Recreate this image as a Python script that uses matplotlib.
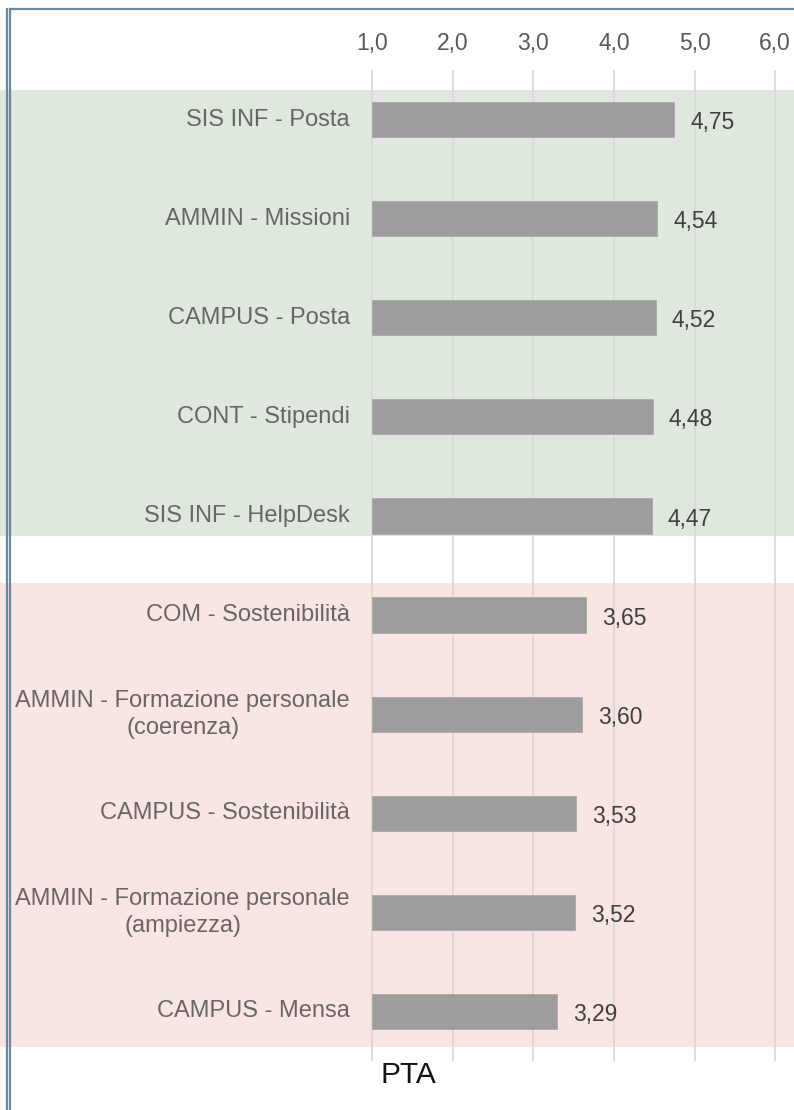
import matplotlib
matplotlib.use("Agg")
import matplotlib.pyplot as plt
from matplotlib.lines import Line2D
from matplotlib.patches import Rectangle

plt.rcParams['font.family'] = ['Liberation Sans', 'DejaVu Sans']

categories = [
    "SIS INF - Posta",
    "AMMIN - Missioni",
    "CAMPUS - Posta",
    "CONT - Stipendi",
    "SIS INF - HelpDesk",
    "COM - Sostenibilità",
    "AMMIN - Formazione personale\n(coerenza)",
    "CAMPUS - Sostenibilità",
    "AMMIN - Formazione personale\n(ampiezza)",
    "CAMPUS - Mensa",
]
values = [4.75, 4.54, 4.52, 4.48, 4.47, 3.65, 3.60, 3.53, 3.52, 3.29]
tick_values = [1, 2, 3, 4, 5, 6]
tick_labels = ["1,0", "2,0", "3,0", "4,0", "5,0", "6,0"]
value_labels = ["4,75", "4,54", "4,52", "4,48", "4,47", "3,65", "3,60", "3,53", "3,52", "3,29"]
axis_title = "PTA"
baseline = 1.0

W, H = 794, 1110
fig = plt.figure(figsize=(W / 100, H / 100), dpi=100)

ax_top_px, ax_bot_px = 70, 1061
ax = fig.add_axes([0, 1 - ax_bot_px / H, 1, (ax_bot_px - ax_top_px) / H])
ax.set_facecolor("none")

px_per_unit = 80.55
x0_px = 372.3
ax.set_xlim(baseline - x0_px / px_per_unit, baseline + (W - x0_px) / px_per_unit)
ax.set_ylim(9.5, -0.5)

# background bands
ax.add_patch(Rectangle((0, -0.30), 1, 4.50, transform=ax.get_yaxis_transform(),
                       facecolor="#dfe8dd", edgecolor="none", zorder=0))
ax.add_patch(Rectangle((0, 4.68), 1, 4.68, transform=ax.get_yaxis_transform(),
                       facecolor="#f9e6e2", edgecolor="none", zorder=0))

# gridlines
for t in tick_values:
    ax.axvline(t, color="#d9d9d9", lw=1.3, zorder=1)

y = list(range(len(categories)))
widths = [v - baseline for v in values]
ax.barh(y, widths, left=baseline, height=0.355, color="#9d9d9d",
        edgecolor="#a8a8a8", linewidth=0.6, zorder=2)

for yi, v, lab in zip(y, values, value_labels):
    ax.annotate(lab, (v, yi), xytext=(11.5, -2.2), textcoords="offset points",
                ha="left", va="center", fontsize=16.5, color="#404040", zorder=3)

for yi, cat in zip(y, categories):
    ax.annotate(cat, (baseline, yi), xytext=(-16, 0), textcoords="offset points",
                ha="right", va="center", multialignment="center",
                fontsize=17, color="#666666", linespacing=1.3, zorder=3)

ax.xaxis.tick_top()
ax.set_xticks(tick_values)
ax.set_xticklabels(tick_labels, fontsize=16.5, color="#595959")
ax.tick_params(axis="x", length=0, pad=10.5)
ax.set_yticks([])
for s in ax.spines.values():
    s.set_visible(False)

fig.text(408 / W, 1 - 1075 / H, axis_title, ha="center", va="center",
         fontsize=21.5, color="#111111")

# frame lines
frame_color = "#6a89a3"
fig.add_artist(Line2D([10 / W, 1], [1 - 9 / H, 1 - 9 / H], color=frame_color, lw=1.6,
                      transform=fig.transFigure))
fig.add_artist(Line2D([7 / W, 7 / W], [1 - 9 / H, 0], color=frame_color, lw=1.6,
                      transform=fig.transFigure))
fig.add_artist(Line2D([10 / W, 10 / W], [1 - 9 / H, 0], color=frame_color, lw=1.6,
                      transform=fig.transFigure))

fig.savefig("out.png", dpi=100)
